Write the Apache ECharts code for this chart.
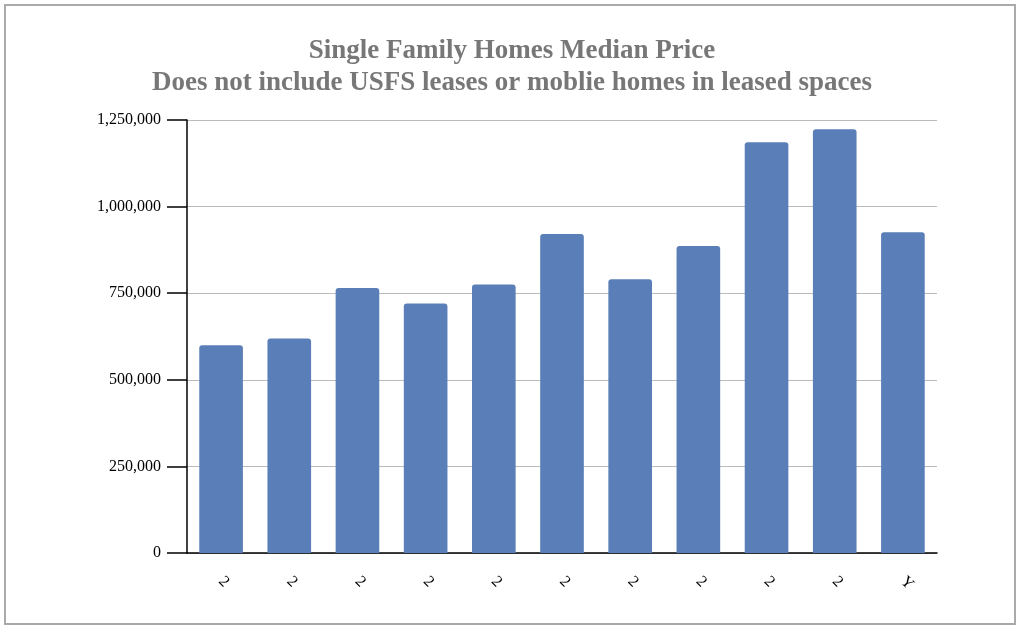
<!DOCTYPE html>
<html><head><meta charset="utf-8">
<script src="https://cdn.jsdelivr.net/npm/echarts@6/dist/echarts.min.js"></script>
<style>html,body{margin:0;background:#fff}#c{width:1024px;height:630px}
#b{position:absolute;left:4px;top:4px;width:1012px;height:621px;border:2px solid #aaa;box-sizing:border-box;pointer-events:none}</style>
</head><body><div id="c"></div><div id="b"></div>
<script>
const categories = ['2','2','2','2','2','2','2','2','2','2','Y'];
const medianPrice = [600000, 619000, 765000, 720000, 775000, 921000, 790000, 886000, 1186000, 1223000, 926000];
const yTicks = [0, 250000, 500000, 750000, 1000000, 1250000];
const chart = echarts.init(document.getElementById('c'));
chart.setOption({
  animation:false,
  title:{text:'Single Family Homes Median Price\nDoes not include USFS leases or moblie homes in leased spaces',
    left:'center',top:30,textStyle:{fontFamily:'Liberation Serif',fontWeight:'bold',fontSize:27,color:'#777',lineHeight:32}},
  grid:{left:187,right:87,top:120,bottom:77},
  xAxis:{type:'category',data:categories,
    axisLine:{lineStyle:{color:'#000',width:1.5}},
    axisTick:{alignWithLabel:true,length:20,lineStyle:{color:'#000',width:1.5}},
    axisLabel:{rotate:-45,fontFamily:'Liberation Serif',fontSize:16,color:'#000',margin:26}},
  yAxis:{type:'value',min:yTicks[0],max:yTicks[yTicks.length-1],interval:250000,
    axisLine:{show:true,lineStyle:{color:'#000',width:1.5}},
    axisTick:{show:true,length:20,lineStyle:{color:'#000',width:1.5}},
    axisLabel:{fontFamily:'Liberation Serif',fontSize:16,color:'#000',margin:26},
    splitLine:{lineStyle:{color:'#bbb'}}},
  series:[{type:'bar',data:medianPrice,barCategoryGap:'36%',
    itemStyle:{color:'#5a7fb8',borderRadius:[3,3,0,0]}}]
});
</script></body></html>
